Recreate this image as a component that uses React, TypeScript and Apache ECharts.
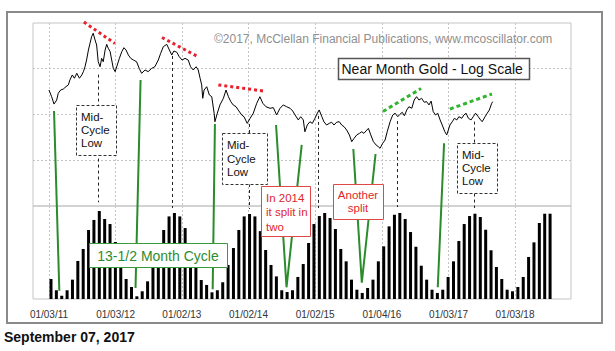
import React, { useEffect, useRef } from 'react';
import * as echarts from 'echarts';

// Trading-day index (0 = 01/03/11) of the first session of each year
const yearStartDays = [0, 252, 502, 754, 1006, 1258, 1510, 1761];
const yearStartLabels = ['01/03/11', '01/03/12', '01/02/13', '01/02/14', '01/02/15', '01/04/16', '01/03/17', '01/03/18'];

// Near month gold (USD/oz), sampled by trading day
const priceDays = [0,10,19,29,35,44,54,64,73,79,88,96,105,115,124,130,136,142,149,155,161,167,174,180,186,193,199,205,212,218,224,231,237,243,250,258,266,275,283,291,300,309,319,331,341,350,363,375,388,400,413,422,432,445,455,464,472,483,492,503,514,526,535,545,556,564,571,577,581,586,596,606,615,624,627,636,646,659,669,678,687,696,707,715,728,737,749,760,772,785,797,808,820,835,848,860,873,885,898,911,921,930,942,951,961,967,976,986,995,1005,1014,1021,1031,1039,1049,1059,1068,1077,1087,1097,1106,1115,1125,1135,1144,1153,1163,1173,1182,1190,1201,1207,1216,1226,1236,1244,1251,1261,1270,1278,1289,1299,1308,1318,1326,1335,1343,1352,1360,1371,1380,1389,1398,1408,1418,1427,1436,1444,1452,1461,1469,1478,1486,1496,1503,1509,1515,1524,1532,1541,1549,1560,1568,1576,1585,1595,1603,1612,1622,1631,1637,1648,1656,1664,1673,1677];
const priceValues = [1424,1377,1327,1354,1401,1424,1431,1448,1461,1498,1536,1511,1549,1511,1536,1562,1601,1656,1742,1802,1862,1895,1832,1786,1642,1601,1670,1642,1742,1792,1757,1727,1656,1588,1562,1615,1670,1727,1762,1742,1698,1670,1656,1642,1588,1549,1575,1562,1588,1601,1656,1713,1771,1792,1742,1698,1733,1722,1684,1656,1670,1656,1601,1575,1601,1575,1511,1461,1366,1424,1448,1389,1377,1267,1214,1267,1321,1366,1424,1377,1343,1321,1309,1288,1256,1245,1204,1235,1267,1332,1377,1332,1309,1299,1303,1256,1299,1321,1309,1299,1281,1256,1225,1245,1225,1154,1194,1214,1204,1235,1267,1288,1245,1214,1194,1204,1211,1194,1211,1214,1194,1184,1164,1136,1098,1117,1136,1145,1154,1145,1164,1174,1136,1098,1080,1071,1062,1089,1107,1154,1214,1256,1267,1245,1260,1273,1251,1288,1309,1299,1354,1377,1354,1366,1339,1343,1321,1347,1277,1256,1267,1225,1194,1154,1136,1164,1194,1214,1235,1225,1245,1235,1256,1267,1235,1225,1245,1267,1245,1225,1214,1245,1267,1288,1332,1343];
const priceGridLines = [1000, 1258.9, 1584.9];

// 13-1/2 month cycle model, one bar per 20 trading days
const cycleBars = [21.5,9.4,3.5,9.4,20.8,40.9,53.8,74.2,85,94.6,
  86,80.6,61.3,40.9,21.5,12.9,2.9,8.3,19,37.6,
  55.9,74.2,88.8,92.5,88.8,76.3,58,39.8,20.4,15.1,
  7.2,9.4,18,36.6,54.8,74.2,88.8,91.4,88.8,73,
  52.7,36.6,24.3,9.4,7.5,9.4,23.7,37.6,60.2,80.6,
  89.2,92.5,87.1,75.3,53.8,40.5,20.8,10,6.5,11.8,
  20.8,40.5,56.6,78.1,90.6,92.5,86,72,56.2,35.8,
  20.8,10,6.5,10,23.7,40.5,62.4,80.6,89.2,91.7,
  88.2,74.5,52.4,34.4,21.5,10,8.3,12.9,23.7,45.2,
  60.9,81.7,91.7,91.7];

// Cycle-low connectors: ['price', day, price] or ['bars', barIndex, level]
const cycleLowPaths: [string, number, number][][] = [
  [['price', 19, 1281], ['bars', 1.55, 8.9]],
  [['price', 346, 1497], ['bars', 15.75, 11.8]],
  [['price', 627, 1200], ['bars', 30.13, 10.4]],
  [['price', 858, 1194], ['bars', 43.89, 12.6], ['price', 955, 1080]],
  [['price', 1150, 1058], ['bars', 57.92, 17.5], ['price', 1234, 1032]],
  [['price', 1493, 1089], ['bars', 72.07, 12.6]],
];
// Mid-cycle lows: day, price at top, bar level at bottom
const midCycleLows = [
  { day: 186, price: 1539, level: 104 },
  { day: 463, price: 1690, level: 97.8 },
  { day: 757, price: 1200, level: 96.8 },
  { day: 1018, price: 1250, level: 97.8 },
  { day: 1315, price: 1218, level: 98.9 },
  { day: 1607, price: 1215, level: 97.8 },
];
// Declining tops (red) and rising tops (green): [[day, price], [day, price]]
const redTrendLines = [
  [[132, 2005], [249, 1800]],
  [[427, 1855], [558, 1690]],
  [[640, 1461], [810, 1417]],
];
const greenTrendLines = [
  [[1262, 1278], [1406, 1435]],
  [[1515, 1294], [1674, 1396]],
];

const FONT = 'Arial, "Liberation Sans", Helvetica, sans-serif';

export default function App() {
  const ref = useRef<HTMLDivElement>(null);
  useEffect(() => {
    const chart = echarts.init(ref.current!, null, { renderer: 'svg' });
    const dayMin = -60.46, dayMax = 1972.6;
    const barMin = -3.354, barMax = 96.9;
    const gridLine = { show: true, lineStyle: { color: '#c4c4c4', type: [2, 2], width: 1 } };
    const labelFor = (v: number) => {
      const i = yearStartDays.indexOf(Math.round(v));
      return i >= 0 ? yearStartLabels[i] : '';
    };
    chart.setOption({
      animation: false,
      backgroundColor: '#ffffff',
      grid: [
        { left: 33, right: 44, top: 23, height: 183, show: true, borderColor: '#c4c4c4', borderWidth: 1 },
        { left: 33, right: 44, top: 206, height: 93, show: true, borderColor: '#c4c4c4', borderWidth: 1 },
      ],
      xAxis: [
        { gridIndex: 0, type: 'value', min: dayMin, max: dayMax, axisLine: { show: false },
          axisTick: { show: false, customValues: yearStartDays }, axisLabel: { show: false }, splitLine: gridLine },
        { gridIndex: 1, type: 'value', min: dayMin, max: dayMax, position: 'bottom', axisLine: { show: false },
          axisTick: { show: false, customValues: yearStartDays },
          axisLabel: { customValues: yearStartDays, formatter: labelFor, color: '#333', fontSize: 10, fontFamily: FONT, margin: 10 },
          splitLine: gridLine },
        { gridIndex: 1, type: 'value', min: barMin, max: barMax, position: 'top', show: false },
      ],
      yAxis: [
        { gridIndex: 0, type: 'log', logBase: 10, min: Math.pow(10, 2.9), max: Math.pow(10, 3.3),
          axisLine: { show: false }, axisTick: { show: false, customValues: priceGridLines },
          axisLabel: { show: false }, splitLine: gridLine },
        { gridIndex: 1, type: 'value', min: 0, max: 100, show: false },
      ],
      series: [
        { type: 'line', xAxisIndex: 0, yAxisIndex: 0, silent: true, showSymbol: false,
          data: priceDays.map((d, i) => [d, priceValues[i]]),
          lineStyle: { color: '#000', width: 1 } },
        { type: 'bar', xAxisIndex: 2, yAxisIndex: 1, silent: true, barWidth: 3,
          data: cycleBars.map((v, i) => [i, v]), itemStyle: { color: '#000' } },
      ],
    });

    const toP = (t: number, p: number) => chart.convertToPixel({ seriesIndex: 0 }, [t, p]) as number[];
    const toB = (k: number, v: number) => chart.convertToPixel({ seriesIndex: 1 }, [k, v]) as number[];
    const pt = (a: [string, number, number]) => (a[0] === 'price' ? toP(a[1], a[2]) : toB(a[1], a[2]));

    const g: any[] = [];
    g.push({ type: 'rect', z: 10, shape: { x: 7, y: 12, width: 595, height: 311 },
      style: { fill: 'none', stroke: '#8a8a8a', lineWidth: 2 } });

    cycleLowPaths.forEach((path) => {
      g.push({ type: 'polyline', z: 50, shape: { points: path.map(pt) },
        style: { fill: 'none', stroke: '#2a8c2a', lineWidth: 2 } });
    });
    midCycleLows.forEach((m) => {
      const top = toP(m.day, m.price);
      const bot = toB(0, m.level);
      const x = Math.round(top[0]) + 0.5;
      g.push({ type: 'line', z: 50, shape: { x1: x, y1: top[1], x2: x, y2: bot[1] },
        style: { stroke: '#222', lineWidth: 1, lineDash: [3, 3] } });
    });
    redTrendLines.forEach((l) => {
      const a = toP(l[0][0], l[0][1]);
      const b = toP(l[1][0], l[1][1]);
      g.push({ type: 'line', z: 50, shape: { x1: a[0], y1: a[1], x2: b[0], y2: b[1] },
        style: { stroke: '#e8202a', lineWidth: 3, lineDash: [3, 3] } });
    });
    greenTrendLines.forEach((l) => {
      const a = toP(l[0][0], l[0][1]);
      const b = toP(l[1][0], l[1][1]);
      g.push({ type: 'line', z: 50, shape: { x1: a[0], y1: a[1], x2: b[0], y2: b[1] },
        style: { stroke: '#2fb52f', lineWidth: 3, lineDash: [4, 3] } });
    });

    const box = (x: number, y: number, w: number, h: number, stroke: string, dash?: number[], lw = 1) =>
      g.push({ type: 'rect', z: 60, shape: { x: x + 0.5, y: y + 0.5, width: w, height: h },
        style: { fill: '#fff', stroke, lineWidth: lw, lineDash: dash } });
    const text = (x: number, y: number, s: string, font: string, fill: string, align = 'left', lh?: number) =>
      g.push({ type: 'text', z: 61, x, y,
        style: { text: s, font, fill, align, verticalAlign: 'middle', lineHeight: lh } });

    const midFont = `11.5px ${FONT}`;
    box(76, 105, 40, 50, '#333', [3, 2]);
    text(81, 130, 'Mid-\nCycle\nLow', midFont, '#111', 'left', 13.3);
    box(222, 133, 45, 51, '#333', [3, 2]);
    text(227, 158.5, 'Mid-\nCycle\nLow', midFont, '#111', 'left', 13.3);
    box(457, 143, 40, 50, '#333', [3, 2]);
    text(462, 168, 'Mid-\nCycle\nLow', midFont, '#111', 'left', 13.3);

    box(261, 186, 49, 50, '#e04848');
    text(266, 212, 'In 2014\nit split in\ntwo', midFont, '#e0262b', 'left', 14.5);
    box(333, 184, 50, 35, '#e04848');
    text(358, 201.7, 'Another\nsplit', midFont, '#e0262b', 'center', 13.3);

    box(89, 243, 138, 24, '#3a9a3a');
    text(158, 255.5, '13-1/2 Month Cycle', `14px ${FONT}`, '#2e8b2e', 'center');

    text(214, 38.5, '\u00a92017, McClellan Financial Publications, www.mcoscillator.com', `12px ${FONT}`, '#8f8f8f');
    box(338, 58, 191, 21, '#555', undefined, 1.5);
    text(341.5, 69, 'Near Month Gold - Log Scale', `14px ${FONT}`, '#111');

    text(4, 337, 'September 07, 2017', `bold 14px ${FONT}`, '#111');

    chart.setOption({ graphic: g });
    return () => chart.dispose();
  }, []);
  return <div ref={ref} style={{ position: 'fixed', left: 0, top: 0, width: 615, height: 351 }} />;
}
